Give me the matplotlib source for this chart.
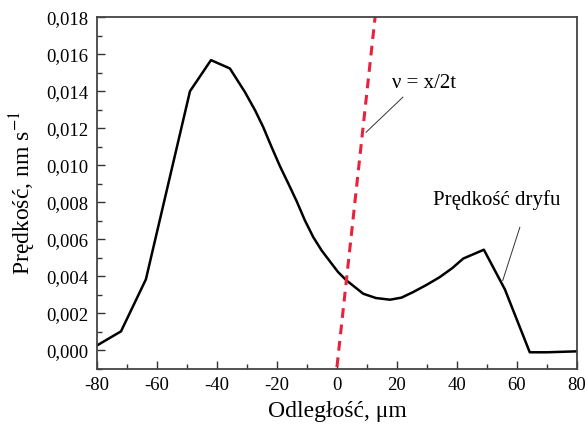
import numpy as np
import matplotlib
matplotlib.use("Agg")
import matplotlib.pyplot as plt
from matplotlib.ticker import MultipleLocator, FuncFormatter

plt.rcParams['font.family'] = ['Liberation Serif', 'DejaVu Serif']
plt.rcParams['mathtext.fontset'] = 'stix'

# drift velocity curve
dist = [-80, -72, -63.7, -49, -42, -35.7, -30.7, -27.3, -24.6, -21.8, -19, -16.2,
        -13.4, -10.7, -7.9, -5.1, -2.3, 0.4, 3.2, 8.8, 13, 17.7, 21.5, 25.4, 30,
        34.3, 38.5, 42.1, 49, 56, 64.3, 70, 80]
speed = [0.00027, 0.00103, 0.00384, 0.0140, 0.01568, 0.01523, 0.01396, 0.01297,
         0.01207, 0.01099, 0.00995, 0.00901, 0.00805, 0.00703, 0.00612, 0.00540,
         0.00480, 0.00423, 0.00378, 0.00306, 0.00283, 0.00274, 0.00285, 0.00315,
         0.00355, 0.00396, 0.00445, 0.00496, 0.00544, 0.00330, -0.0001, -0.0001,
         -0.00005]

# line v = x/2t
line_x = [0, 13.4]
line_y = [-0.0009, 0.0190]

fig = plt.figure(figsize=(5.88, 4.29), dpi=100)
ax = fig.add_axes([0.165, 0.140, 0.816, 0.820])

ax.plot(dist, speed, color='black', lw=1.8, solid_joinstyle='round')
ax.plot(line_x, line_y, color='#e8213c', lw=2.2, linestyle=(0, (3.2, 2.2)))

ax.set_xlim(-80, 80)
ax.set_ylim(-0.001, 0.018)
ax.xaxis.set_major_locator(MultipleLocator(20))
ax.xaxis.set_minor_locator(MultipleLocator(10))
ax.yaxis.set_major_locator(MultipleLocator(0.002))
ax.yaxis.set_minor_locator(MultipleLocator(0.001))
ax.yaxis.set_major_formatter(FuncFormatter(lambda v, p: f"{v:.3f}".replace('.', ',').replace('-0,000', '0,000')))
ax.xaxis.set_major_formatter(FuncFormatter(lambda v, p: f"{v:.0f}"))

ax.tick_params(which='both', direction='in', top=False, right=False,
               labelsize=13.5, width=1, color='#333333', pad=6)
ax.tick_params(which='major', length=6)
ax.tick_params(which='minor', length=3.5)
for s in ax.spines.values():
    s.set_color('#444444')
    s.set_linewidth(1.3)

ax.set_xlabel('Odległość, μm', fontsize=17, labelpad=5)
ax.set_ylabel('Prędkość, nm s$^{-1}$', fontsize=17, labelpad=6)

ax.text(18.3, 0.01443, 'ν = x/2t', fontsize=15, va='center', ha='left')
ax.plot([22, 9.7], [0.01368, 0.01178], color='#333333', lw=0.7)
ax.text(32, 0.00811, 'Prędkość dryfu', fontsize=15, va='center', ha='left')
ax.plot([61, 55.3], [0.00665, 0.00378], color='#333333', lw=0.7)

fig.savefig('out.png', dpi=100)
